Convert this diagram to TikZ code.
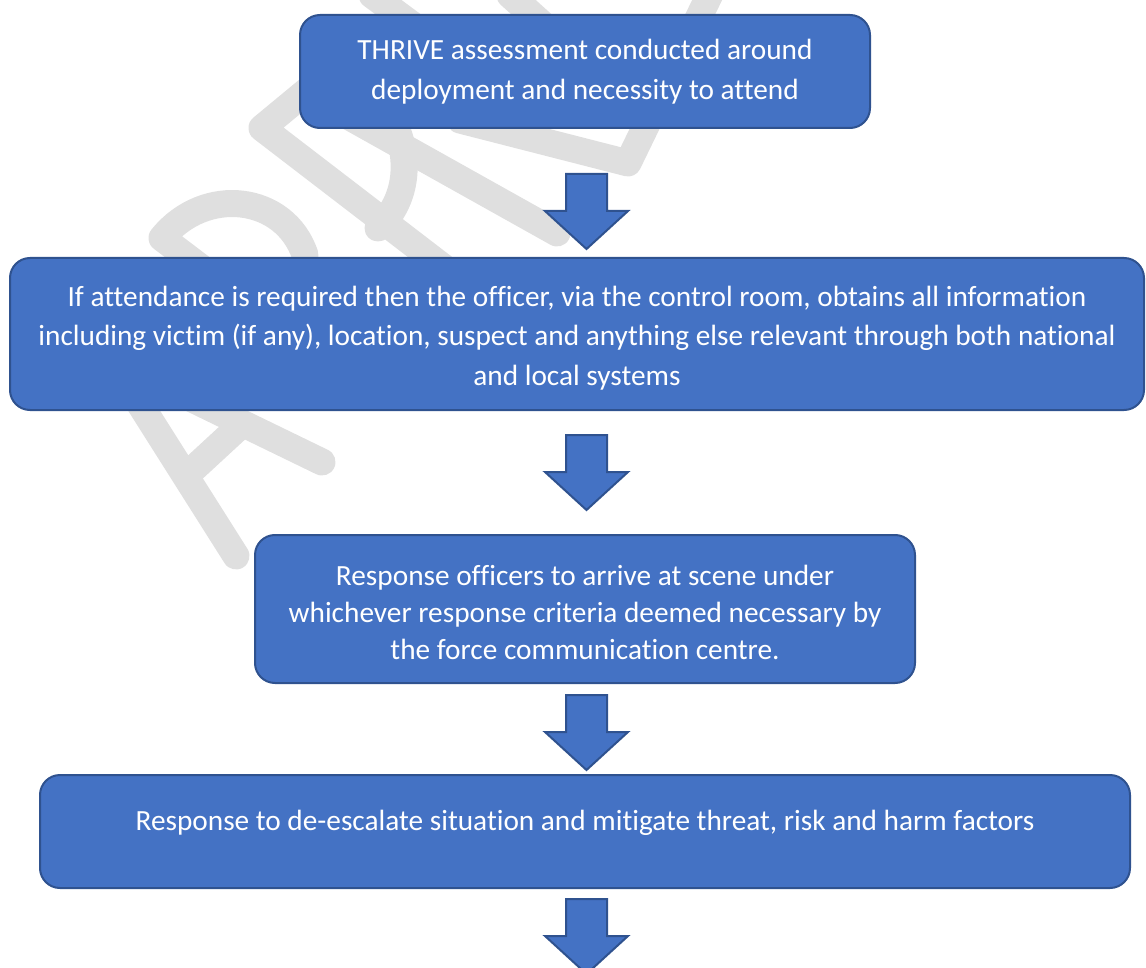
\documentclass[tikz,border=0pt]{standalone}
\usepackage{fontspec}
\setmainfont{Carlito}[Ligatures={NoCommon}]
\usetikzlibrary{calc}
\definecolor{boxfill}{HTML}{4472C4}
\definecolor{boxline}{HTML}{2F528F}
\definecolor{markgray}{HTML}{DFDFDF}
\tikzset{
  stepbox/.style={draw=boxline, line width=2pt, fill=boxfill, rounded corners=20pt, inner sep=0pt},
  steptext/.style={text=white, align=center, inner sep=0pt, font=\fontsize{29.3}{#1}\selectfont},
  steptext/.default=38.5,
  blockarrow/.style={draw=boxline, line width=2pt, fill=boxfill, line join=miter},
  markstroke/.style={draw=markgray, line width=27pt, line cap=round, line join=round},
  downarrow/.pic={\path[blockarrow] (-20.5,0) -- (20.5,0) -- (20.5,37) -- (41.5,37) -- (0,75) -- (-41.5,37) -- (-20.5,37) -- cycle;}
}
\begin{document}
\begin{tikzpicture}[x=1pt,y=-1pt]
\useasboundingbox (0,0) rectangle (1146,968);

% faint background lettering
\draw[markstroke] (236,556) -- (112,360) -- (322,462);
\draw[markstroke] (190,472) -- (242,424);
\draw[markstroke] (290,335) -- (162,238) .. controls (205,185) and (285,195) .. (305,255) -- (300,320);
\draw[markstroke] (460,280) -- (262,128) -- (320,80) .. controls (380,60) and (440,170) .. (378,228);
\draw[markstroke] (557,233) -- (330,106);
\draw[markstroke] (460,120) -- (628,163) -- (712,-10);
\draw[markstroke] (372,-5) -- (460,60);
\draw[markstroke] (510,-5) -- (560,40);

% process boxes
\node[stepbox, minimum width=570pt, minimum height=113pt] (b1) at (585,71.5) {};
\node[stepbox, minimum width=1134pt, minimum height=152pt] (b2) at (577,334) {};
\node[stepbox, minimum width=660pt, minimum height=148pt] (b3) at (585,609) {};
\node[stepbox, minimum width=1090pt, minimum height=113pt] (b4) at (585,831.5) {};

\node[steptext=40] (t1) at ($(b1.center)+(0,0)$) {THRIVE assessment conducted around\\deployment and necessity to attend};
\node[steptext=39.5] (t2) at ($(b2.center)+(0,4)$) {If attendance is required then the officer, via the control room, obtains all information\\including victim (if any), location, suspect and anything else relevant through both national\\and local systems};
\node[steptext=37] (t3) at ($(b3.center)+(0,3)$) {Response officers to arrive at scene under\\whichever response criteria deemed necessary by\\the force communication centre.};
\node[steptext] (t4) at ($(b4.center)+(0,-9)$) {Response to de-escalate situation and mitigate threat, risk and harm factors};

% block arrows between the steps
\coordinate (a1) at (586.5,174);
\coordinate (a2) at (586.5,435);
\coordinate (a3) at (586.5,695);
\coordinate (a4) at (586.5,899);
\pic at (a1) {downarrow};
\pic at (a2) {downarrow};
\pic at (a3) {downarrow};
\pic at (a4) {downarrow};
\end{tikzpicture}
\end{document}
